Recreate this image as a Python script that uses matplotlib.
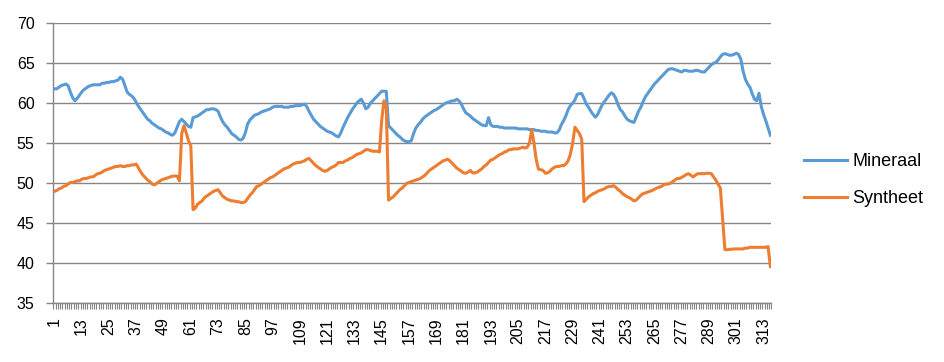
import numpy as np
import matplotlib
matplotlib.use("Agg")
import matplotlib.pyplot as plt
from matplotlib.ticker import FixedLocator, NullFormatter

# ─── DATA ─────────────────────────────────────────────────────────────────────
mineraal = [
    61.8, 61.8, 62.0, 62.2, 62.3, 62.4, 62.2, 61.4, 60.7, 60.3,
    60.6, 61.0, 61.4, 61.7, 61.9, 62.1, 62.2, 62.3, 62.3, 62.3,
    62.3, 62.5, 62.5, 62.6, 62.6, 62.7, 62.7, 62.8, 62.9, 63.25,
    63.0, 62.2, 61.4, 61.1, 60.9, 60.6, 60.1, 59.6, 59.2, 58.8,
    58.4, 58.0, 57.8, 57.5, 57.3, 57.1, 56.9, 56.8, 56.6, 56.4,
    56.3, 56.1, 56.0, 56.3, 57.0, 57.7, 58.0, 57.7, 57.4, 57.1,
    57.0, 58.2, 58.3, 58.4, 58.6, 58.8, 59.0, 59.2, 59.2, 59.3,
    59.3, 59.2, 59.0, 58.3, 57.7, 57.3, 57.0, 56.6, 56.2, 56.0,
    55.8, 55.5, 55.4, 55.6, 56.3, 57.4, 57.9, 58.2, 58.5, 58.6,
    58.7, 58.9, 59.0, 59.1, 59.2, 59.3, 59.5, 59.6, 59.6, 59.6,
    59.6, 59.5, 59.5, 59.5, 59.6, 59.6, 59.7, 59.7, 59.7, 59.8,
    59.9, 59.6, 59.0, 58.5, 58.0, 57.7, 57.4, 57.1, 56.9, 56.7,
    56.5, 56.4, 56.3, 56.1, 55.9, 55.8, 56.3, 57.0, 57.6, 58.2,
    58.7, 59.2, 59.6, 60.0, 60.3, 60.5, 60.0, 59.3, 59.5, 60.0,
    60.3, 60.6, 60.9, 61.2, 61.5, 61.5, 61.5, 57.2, 56.9, 56.6,
    56.3, 56.0, 55.8, 55.5, 55.3, 55.2, 55.2, 55.3, 56.2, 56.9,
    57.3, 57.6, 58.0, 58.3, 58.5, 58.7, 58.9, 59.1, 59.2, 59.4,
    59.6, 59.8, 60.0, 60.1, 60.2, 60.3, 60.3, 60.5, 60.3, 59.9,
    59.3, 58.8, 58.6, 58.4, 58.1, 57.9, 57.7, 57.5, 57.3, 57.2,
    57.2, 58.2, 57.3, 57.1, 57.1, 57.1, 57.0, 57.0, 56.9, 56.9,
    56.9, 56.9, 56.9, 56.9, 56.8, 56.8, 56.8, 56.8, 56.8, 56.7,
    56.7, 56.7, 56.6, 56.6, 56.5, 56.5, 56.5, 56.4, 56.4, 56.4,
    56.3, 56.3, 56.6, 57.3, 57.8, 58.4, 59.2, 59.7, 60.0, 60.4,
    61.1, 61.2, 61.2, 60.6, 59.9, 59.5, 59.0, 58.6, 58.25, 58.6,
    59.2, 59.8, 60.2, 60.6, 61.0, 61.3, 61.1, 60.6, 59.8, 59.2,
    58.9, 58.4, 58.0, 57.8, 57.7, 57.6, 58.3, 59.0, 59.5, 60.2,
    60.8, 61.2, 61.6, 62.0, 62.4, 62.7, 63.0, 63.3, 63.6, 63.9,
    64.2, 64.3, 64.3, 64.2, 64.1, 64.0, 63.9, 64.1, 64.1, 64.0,
    64.0, 64.0, 64.1, 64.1, 64.0, 63.9, 63.9, 64.2, 64.5, 64.8,
    65.0, 65.1, 65.4, 65.8, 66.1, 66.2, 66.1, 66.0, 66.0, 66.1,
    66.25, 66.1, 65.5, 64.0, 63.0, 62.4, 62.0, 61.2, 60.5, 60.3,
    61.25, 59.6, 58.6, 57.8, 56.9, 56.0,
]

syntheet = [
    49.0, 49.1, 49.3, 49.4, 49.6, 49.7, 49.9, 50.1, 50.1, 50.2,
    50.3, 50.3, 50.5, 50.6, 50.6, 50.7, 50.8, 50.8, 51.0, 51.2,
    51.25, 51.4, 51.6, 51.7, 51.8, 51.9, 52.0, 52.1, 52.1, 52.2,
    52.1, 52.1, 52.2, 52.2, 52.3, 52.3, 52.4, 51.9, 51.4, 51.0,
    50.7, 50.4, 50.2, 49.9, 49.8, 50.0, 50.2, 50.4, 50.5, 50.6,
    50.7, 50.8, 50.9, 50.9, 50.9, 50.3, 56.2, 57.2, 56.3, 55.3,
    54.7, 46.7, 46.9, 47.4, 47.6, 47.8, 48.2, 48.4, 48.6, 48.8,
    49.0, 49.1, 49.2, 48.8, 48.4, 48.2, 48.0, 47.9, 47.8, 47.8,
    47.7, 47.7, 47.6, 47.6, 47.7, 48.1, 48.5, 48.8, 49.2, 49.6,
    49.7, 49.9, 50.1, 50.3, 50.5, 50.7, 50.8, 51.0, 51.2, 51.4,
    51.6, 51.8, 51.9, 52.0, 52.2, 52.4, 52.5, 52.6, 52.6, 52.7,
    52.8, 53.0, 53.1, 52.8, 52.5, 52.2, 52.0, 51.8, 51.6, 51.5,
    51.6, 51.8, 52.0, 52.1, 52.3, 52.6, 52.6, 52.6, 52.8, 52.9,
    53.1, 53.2, 53.4, 53.6, 53.7, 53.8, 54.0, 54.2, 54.2, 54.1,
    54.0, 54.0, 54.0, 53.9, 57.9, 60.3, 59.6, 47.9, 48.1, 48.3,
    48.6, 48.9, 49.2, 49.4, 49.7, 50.0, 50.1, 50.2, 50.3, 50.4,
    50.5, 50.6, 50.8, 51.0, 51.3, 51.6, 51.8, 52.0, 52.2, 52.4,
    52.6, 52.8, 52.9, 53.0, 52.8, 52.5, 52.2, 51.9, 51.7, 51.5,
    51.3, 51.25, 51.4, 51.6, 51.3, 51.3, 51.4, 51.6, 51.8, 52.1,
    52.3, 52.6, 52.9, 53.0, 53.2, 53.4, 53.6, 53.7, 53.9, 54.0,
    54.2, 54.2, 54.3, 54.3, 54.3, 54.4, 54.5, 54.4, 54.5, 55.0,
    56.7, 55.0, 52.9, 51.75, 51.7, 51.6, 51.25, 51.3, 51.5, 51.8,
    52.0, 52.1, 52.1, 52.2, 52.2, 52.4, 52.8, 53.6, 55.0, 57.0,
    56.6, 56.2, 55.5, 47.7, 48.0, 48.3, 48.5, 48.7, 48.8, 49.0,
    49.1, 49.2, 49.3, 49.5, 49.6, 49.6, 49.7, 49.5, 49.2, 49.0,
    48.7, 48.5, 48.3, 48.2, 48.0, 47.8, 47.9, 48.2, 48.5, 48.7,
    48.8, 48.9, 49.0, 49.1, 49.25, 49.4, 49.5, 49.6, 49.8, 49.9,
    49.9, 50.0, 50.2, 50.4, 50.6, 50.6, 50.75, 50.9, 51.1, 51.2,
    51.0, 50.8, 51.0, 51.2, 51.2, 51.2, 51.2, 51.25, 51.25, 51.2,
    50.8, 50.4, 49.9, 49.4, 45.5, 41.7, 41.7, 41.75, 41.75, 41.8,
    41.8, 41.8, 41.8, 41.8, 41.9, 41.9, 42.0, 42.0, 42.0, 42.0,
    42.0, 42.0, 42.0, 42.0, 42.1, 39.6,
]

SERIES = [("Mineraal", mineraal, "#5B9BD5"), ("Syntheet", syntheet, "#ED7D31")]
Y_TICKS = list(range(35, 71, 5))
GRID = "#868686"

plt.rcParams["font.family"] = ["Liberation Sans", "DejaVu Sans"]

# ─── PLOTTING ─────────────────────────────────────────────────────────────────
fig = plt.figure(figsize=(9.45, 3.62), dpi=100)
ax = fig.add_axes([0.0564, 0.162, 0.760, 0.774])

n = len(mineraal)
for name, vals, col in SERIES:
    x = np.arange(1, len(vals) + 1)
    ax.plot(x, vals, color=col, lw=2.2, label=name, solid_joinstyle="round")

ax.set_xlim(0.5, n + 0.5)
ax.set_ylim(35, 70)
ax.set_yticks(Y_TICKS)
ax.yaxis.grid(True, color=GRID, lw=1)
ax.set_axisbelow(True)

# category labels every 12, tick marks at every category boundary
ax.xaxis.set_major_locator(FixedLocator(np.arange(1, n + 1, 12)))
ax.set_xticklabels([str(v) for v in range(1, n + 1, 12)], rotation=90)
ax.xaxis.set_minor_locator(FixedLocator(np.arange(0.5, n + 1, 1)))
ax.xaxis.set_minor_formatter(NullFormatter())
ax.tick_params(axis="x", which="major", length=0, pad=10, labelsize=11.5)
ax.tick_params(axis="x", which="minor", length=4, width=0.8, color=GRID)
ax.tick_params(axis="y", length=5, width=1, color=GRID, labelsize=11.5, pad=8.5)

for s in ["top", "right"]:
    ax.spines[s].set_visible(False)
for s in ["left", "bottom"]:
    ax.spines[s].set_color(GRID)
    ax.spines[s].set_linewidth(1)

ax.legend(loc="center left", bbox_to_anchor=(1.022, 0.44), frameon=False,
          fontsize=13, handlelength=2.4, handletextpad=0.3, labelspacing=1.1)

fig.savefig("out.png", dpi=100)
